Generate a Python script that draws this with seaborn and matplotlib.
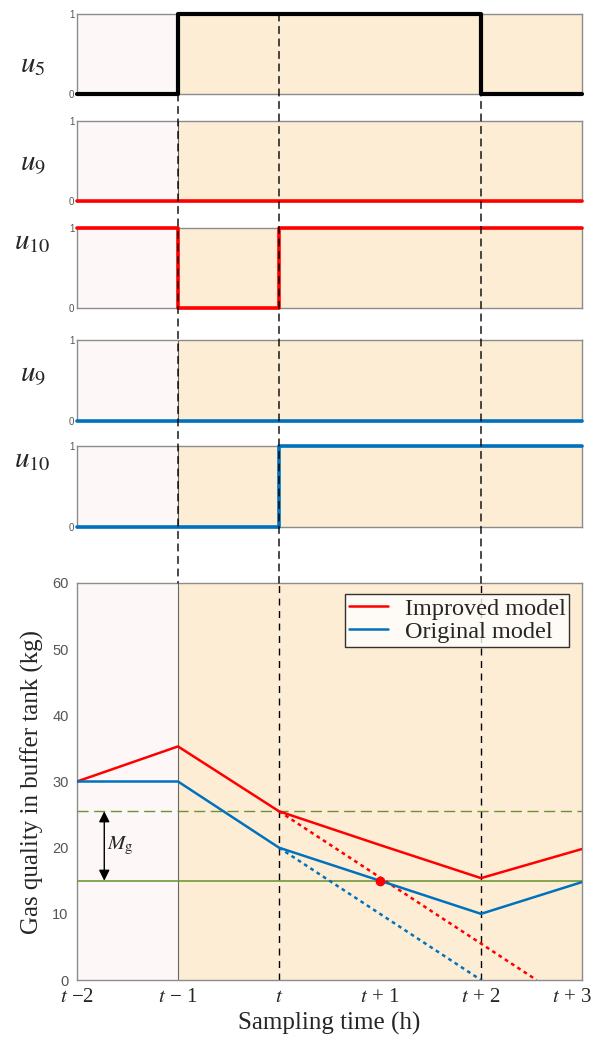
import numpy as np
import pandas as pd
import seaborn as sns
import matplotlib
matplotlib.use("Agg")
import matplotlib.pyplot as plt
from matplotlib.patches import ConnectionPatch

sns.set_style("white")
plt.rcParams['font.family'] = ['Liberation Serif', 'DejaVu Serif']
plt.rcParams['mathtext.fontset'] = 'stix'

# ---- data ----
steps = [0, 1, 2, 3, 4, 5]
xtick_labels = ["$t$ \u22122", "$t$ \u2212 1", "$t$", "$t$ + 1", "$t$ + 2", "$t$ + 3"]
u5_improved = [0, 1, 1, 1, 0, 0]
u9_improved = [0, 0, 0, 0, 0, 0]
u10_improved = [1, 0, 1, 1, 1, 1]
u9_original = [0, 0, 0, 0, 0, 0]
u10_original = [0, 0, 1, 1, 1, 1]
panel_labels = ["$u_5$", "$u_9$", "$u_{10}$", "$u_9$", "$u_{10}$"]
label_heights = [0.36, 0.45, 0.82, 0.56, 0.83]

gas_improved = [30, 35.3, 25.5, 20.4, 15.4, 19.8]
gas_original = [30, 30, 20, 15, 10, 14.8]
pred_improved_x = [2, 4.55]
pred_improved_y = [25.5, 0]
pred_original_x = [2, 4]
pred_original_y = [20, 0]
upper_limit = 25.5
lower_limit = 15
cross_point = (3, 15)
event_x = [1, 2, 4]

RED = "#FF0000"
BLUE = "#0072BD"
BLACK = "#000000"
PINK = "#FDF8F7"
ORANGE = "#FDEDD5"
SPINE = "#8C8C8C"
TICK = "#555555"
GREEN_D = "#6F8F3A"
GREEN_S = "#6E9A3A"

fig = plt.figure(figsize=(5.95, 10.43), dpi=100)
left, width = 77/595, 505/595
H = 1043.0
def rect(top, bot):
    return [left, 1 - bot/H, width, (bot - top)/H]

small_rects = [rect(14, 94), rect(121, 201), rect(228, 308), rect(340, 421), rect(446, 527)]
small_data = [(u5_improved, BLACK), (u9_improved, RED), (u10_improved, RED),
              (u9_original, BLUE), (u10_original, BLUE)]

def style_bg(ax):
    ax.axvspan(0, 1, color=PINK, zorder=0, lw=0)
    ax.axvspan(1, 5, color=ORANGE, zorder=0, lw=0)
    ax.axvline(1, color="#666666", lw=0.8, zorder=1)
    for s in ax.spines.values():
        s.set_color(SPINE)
        s.set_linewidth(1.0)

axes = []
for r, (vals, col), lab, lh in zip(small_rects, small_data, panel_labels, label_heights):
    ax = fig.add_axes(r)
    style_bg(ax)
    df = pd.DataFrame({"x": steps, "y": vals})
    sns.lineplot(data=df, x="x", y="y", ax=ax, color=col, lw=3 if col == BLACK else 2.6,
                 drawstyle="steps-post", clip_on=False, zorder=5)
    ax.set_xlim(0, 5)
    ax.set_ylim(0, 1)
    ax.set_xticks([])
    ax.set_yticks([0, 1])
    ax.set_yticklabels(["0", "1"], fontfamily="Liberation Sans", fontsize=7, color=TICK)
    ax.tick_params(axis="y", length=0, pad=2)
    ax.set_xlabel("")
    ax.set_ylabel(lab, rotation=0, fontsize=21, va="center", ha="center")
    ax.yaxis.set_label_coords(-0.088, lh)
    axes.append(ax)

# main panel
axm = fig.add_axes(rect(583, 980))
style_bg(axm)
df_imp = pd.DataFrame({"x": steps, "y": gas_improved})
df_org = pd.DataFrame({"x": steps, "y": gas_original})
sns.lineplot(data=df_imp, x="x", y="y", ax=axm, color=RED, lw=1.8, label="Improved model", zorder=5)
sns.lineplot(data=df_org, x="x", y="y", ax=axm, color=BLUE, lw=1.8, label="Original model", zorder=5)
axm.plot(pred_improved_x, pred_improved_y, color=RED, lw=1.8, ls=(0, (1.5, 1.5)), zorder=4)
axm.plot(pred_original_x, pred_original_y, color=BLUE, lw=1.8, ls=(0, (1.5, 1.5)), zorder=4)
axm.axhline(upper_limit, color=GREEN_D, lw=1.0, ls=(0, (8, 4)), zorder=3)
axm.axhline(lower_limit, color=GREEN_S, lw=1.2, zorder=3)
axm.plot([cross_point[0]], [cross_point[1]], "o", color=RED, ms=6, zorder=6)
axm.annotate("", xy=(0.27, lower_limit), xytext=(0.27, upper_limit),
             arrowprops=dict(arrowstyle="<|-|>", color="black", lw=1.0, mutation_scale=16,
                             shrinkA=0, shrinkB=0))
axm.text(0.3, (upper_limit + lower_limit)/2, "$M_\\mathrm{g}$", fontsize=15, va="center", ha="left")
for xv in event_x[1:]:
    axm.axvline(xv, color="black", lw=1.0, ls=(0, (5, 4)), zorder=2)
axm.set_xlim(0, 5)
axm.set_ylim(0, 60)
axm.set_xticks(steps)
axm.set_xticklabels(xtick_labels[:-1] + [""], fontsize=15)
# last tick label nudged inward so it stays inside the figure
axm.annotate(xtick_labels[-1], xy=(steps[-1], 0), xycoords=("data", "axes fraction"),
             xytext=(-7, -5.5), textcoords="offset points", ha="center", va="top", fontsize=15)
axm.set_yticks([0, 10, 20, 30, 40, 50, 60])
axm.set_yticklabels(["0", "10", "20", "30", "40", "50", "60"], fontfamily="Liberation Sans",
                    fontsize=10.5, color=TICK)
axm.tick_params(axis="both", length=0, pad=6)
axm.set_xlabel("Sampling time (h)", fontsize=18, labelpad=3)
axm.set_ylabel("Gas quality in buffer tank (kg)", fontsize=18, labelpad=6)
leg = axm.legend(loc="upper right", fontsize=17.5, frameon=True, fancybox=False, handlelength=1.6,
                 borderpad=0.15, labelspacing=0.05, handletextpad=0.7, borderaxespad=0,
                 bbox_to_anchor=(0.975, 0.972))
leg.get_frame().set_edgecolor("black")
leg.get_frame().set_linewidth(1.0)

# vertical event lines spanning panels
starts = {1: (axes[0], 0), 2: (axes[0], 1), 4: (axes[0], 1)}
for xv in event_x:
    a0, y0 = starts[xv]
    cp = ConnectionPatch(xyA=(xv, y0), coordsA=a0.transData,
                         xyB=(xv, 60), coordsB=axm.transData,
                         color="black", lw=1.0, ls=(0, (5, 4)), zorder=10)
    fig.add_artist(cp)

fig.savefig("out.png", dpi=100)
